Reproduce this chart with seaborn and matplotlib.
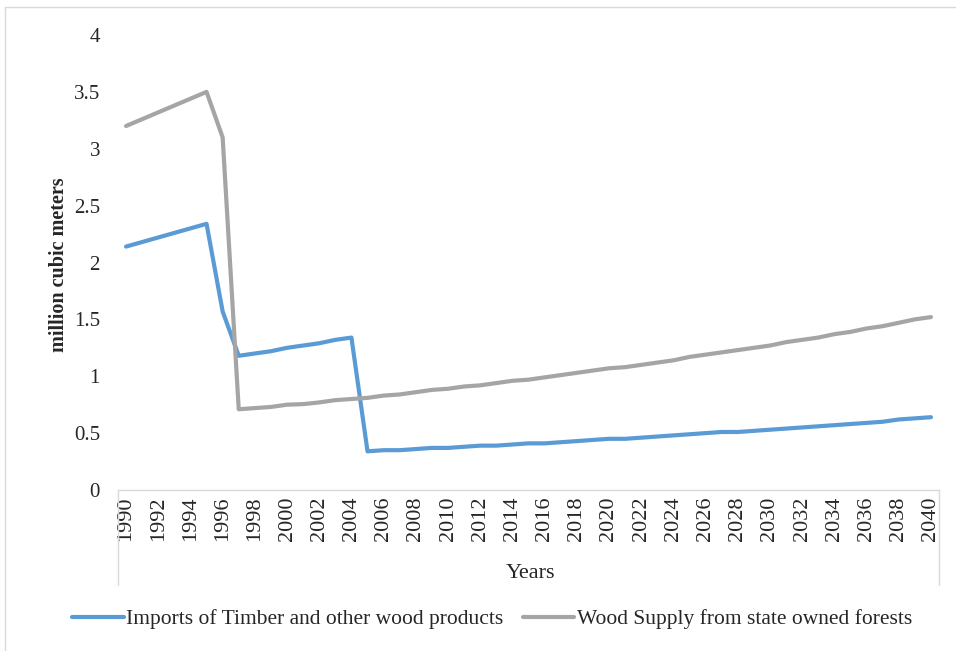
import matplotlib
matplotlib.use("Agg")
import matplotlib.pyplot as plt
from matplotlib.lines import Line2D
import seaborn as sns
import pandas as pd

years = list(range(1990, 2041))

imports_timber = [
    2.14, 2.18, 2.22, 2.26, 2.30, 2.34, 1.57, 1.18, 1.20, 1.22,
    1.25, 1.27, 1.29, 1.32, 1.34, 0.34, 0.35, 0.35, 0.36, 0.37,
    0.37, 0.38, 0.39, 0.39, 0.40, 0.41, 0.41, 0.42, 0.43, 0.44,
    0.45, 0.45, 0.46, 0.47, 0.48, 0.49, 0.50, 0.51, 0.51, 0.52,
    0.53, 0.54, 0.55, 0.56, 0.57, 0.58, 0.59, 0.60, 0.62, 0.63,
    0.64,
]

state_forest_supply = [
    3.20, 3.26, 3.32, 3.38, 3.44, 3.50, 3.10, 0.71, 0.72, 0.73,
    0.75, 0.755, 0.77, 0.79, 0.80, 0.81, 0.83, 0.84, 0.86, 0.88,
    0.89, 0.91, 0.92, 0.94, 0.96, 0.97, 0.99, 1.01, 1.03, 1.05,
    1.07, 1.08, 1.10, 1.12, 1.14, 1.17, 1.19, 1.21, 1.23, 1.25,
    1.27, 1.30, 1.32, 1.34, 1.37, 1.39, 1.42, 1.44, 1.47, 1.50,
    1.52,
]

series_names = [
    "Imports of Timber and other wood products",
    "Wood Supply from state owned forests",
]
series_colors = ["#5B9BD5", "#A5A5A5"]

y_ticks = [0, 0.5, 1, 1.5, 2, 2.5, 3, 3.5, 4]
y_tick_labels = ["0", "0.5", "1", "1.5", "2", "2.5", "3", "3.5", "4"]
x_ticks = list(range(1990, 2041, 2))

df = pd.DataFrame({
    "Year": years * 2,
    "Value": imports_timber + state_forest_supply,
    "Series": [series_names[0]] * len(years) + [series_names[1]] * len(years),
})

sns.set_style("white")
plt.rcParams["font.family"] = ["Liberation Serif", "DejaVu Serif"]

W, H = 956, 651
fig = plt.figure(figsize=(W / 100, H / 100), dpi=100)
ax_left, ax_right, ax_top, ax_bottom = 118, 939, 35, 490
ax = fig.add_axes([ax_left / W, 1 - ax_bottom / H,
                   (ax_right - ax_left) / W, (ax_bottom - ax_top) / H])

sns.lineplot(data=df, x="Year", y="Value", hue="Series",
             palette=dict(zip(series_names, series_colors)),
             linewidth=3.0, ax=ax, legend=False)

ax.set_xlim(1989.5, 2040.5)
ax.set_ylim(0, 4)
ax.set_yticks(y_ticks)
ax.set_yticklabels(y_tick_labels, fontsize=15)
ax.set_xticks(x_ticks)
ax.set_xticklabels([str(y) for y in x_ticks], rotation=90, fontsize=16)
ax.tick_params(axis="both", length=0)
ax.tick_params(axis="x", pad=5)
ax.tick_params(axis="y", pad=13)

for side in ["top", "right", "left"]:
    ax.spines[side].set_visible(False)
ax.spines["bottom"].set_color("#D9D9D9")
ax.spines["bottom"].set_linewidth(1.0)

# category axis frame below the plot area
drop = -(585 - ax_bottom) / (ax_bottom - ax_top)
for xa in (0, 1):
    ax.add_line(Line2D([xa, xa], [0, drop], transform=ax.transAxes,
                       color="#D9D9D9", linewidth=1.0, clip_on=False))

ax.set_xlabel("")
ax.set_ylabel("")
fig.text(530 / W, 1 - 573 / H, "Years", ha="center", va="center", fontsize=16)
fig.text(59 / W, 1 - 265 / H, "million cubic meters", ha="center", va="center",
         rotation=90, fontsize=14.5, fontweight="bold")

handles = [Line2D([0], [0], color=c, linewidth=3.0) for c in series_colors]
fig.legend(handles, series_names, loc="center", ncol=2,
           bbox_to_anchor=(492 / W, 1 - 619 / H), frameon=False,
           fontsize=15.5, handlelength=2.4, handletextpad=0.1,
           columnspacing=0.9)

# chart area border
fig.add_artist(Line2D([5 / W, 5 / W], [0, 1 - 7 / H], transform=fig.transFigure,
                      color="#D9D9D9", linewidth=1.0))
fig.add_artist(Line2D([5 / W, 1], [1 - 7 / H, 1 - 7 / H], transform=fig.transFigure,
                      color="#D9D9D9", linewidth=1.0))

fig.savefig("out.png", dpi=100, facecolor="white")
